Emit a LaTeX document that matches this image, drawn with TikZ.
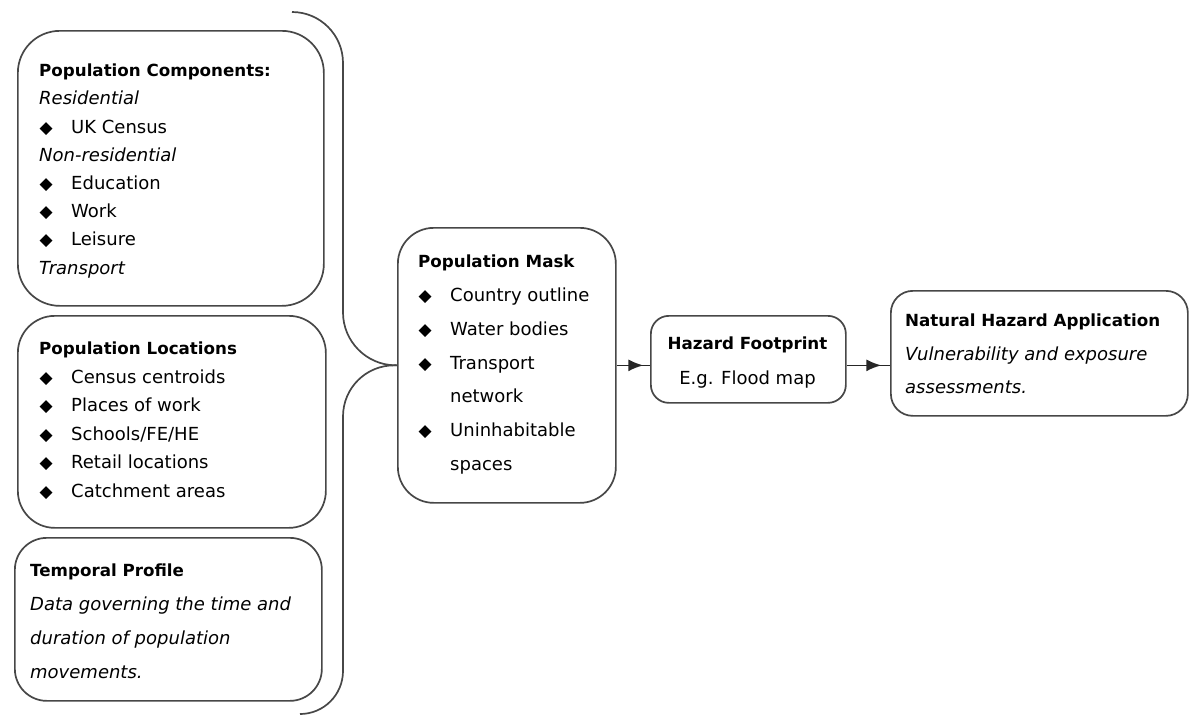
\documentclass[tikz,border=0pt]{standalone}
\usepackage{fontspec}
\setmainfont{DejaVu Sans}
\usetikzlibrary{arrows.meta,decorations.markings}

\newcommand{\dia}{\makebox[32pt][l]{\hspace{0.5pt}\fontsize{17}{17}\selectfont ◆}}
\newcommand{\ttl}[1]{{\fontsize{16.7}{20}\selectfont\bfseries #1}}

\begin{document}
\begin{tikzpicture}[x=1pt,y=-1pt,
    box/.style={draw=black!72, line width=1.7pt, fill=white, anchor=north west, inner sep=0pt},
    txt/.style={anchor=north west, inner sep=0pt, align=left},
    line/.style={draw=black!72, line width=1.7pt},
    flow/.style={draw=black!85, line width=1.7pt, postaction={decorate},
      decoration={markings, mark=at position 0.8 with {\arrow{Latex[length=15pt,width=12pt]}}}}]
    \useasboundingbox (0,0) rectangle (1190,716);

    %%%%% boxes %%%%%
    \node[box, rounded corners=42pt, minimum width=306pt, minimum height=275pt] (comp) at (17,30) {};
    \node[box, rounded corners=37pt, minimum width=308pt, minimum height=212pt] (loc) at (17,315) {};
    \node[box, rounded corners=32pt, minimum width=307pt, minimum height=163pt] (temp) at (14,537) {};
    \node[box, rounded corners=36pt, minimum width=218pt, minimum height=275pt] (mask) at (397,227) {};
    \node[box, rounded corners=18pt, minimum width=195pt, minimum height=87pt] (hazard) at (650,315) {};
    \node[box, rounded corners=22pt, minimum width=297pt, minimum height=125pt] (app) at (890,290) {};

    %%%%% texts %%%%%
    \node[txt] (comp-t) at (39,56.8) {\fontsize{18}{28.2}\selectfont
      \begin{tabular}{@{}l@{}}
        \ttl{Population Components:}\\
        \textit{Residential}\\
        \dia UK Census\\
        \textit{Non-residential}\\
        \dia Education\\
        \dia Work\\
        \dia Leisure\\
        \textit{Transport}
      \end{tabular}};
    \node[txt] (loc-t) at (39,334.6) {\fontsize{18}{28.5}\selectfont
      \begin{tabular}{@{}l@{}}
        \ttl{Population Locations}\\
        \dia Census centroids\\
        \dia Places of work\\
        \dia Schools/FE/HE\\
        \dia Retail locations\\
        \dia Catchment areas
      \end{tabular}};
    \node[txt] (temp-t) at (30,552.7) {\fontsize{18}{34}\selectfont
      \begin{tabular}{@{}l@{}}
        \ttl{Temporal Profile}\\
        \textit{Data governing the time and}\\
        \textit{duration of population}\\
        \textit{movements.}
      \end{tabular}};
    \node[txt] (mask-t) at (418,243.8) {\fontsize{18}{33.8}\selectfont
      \begin{tabular}{@{}l@{}}
        \ttl{Population Mask}\\
        \dia Country outline\\
        \dia Water bodies\\
        \dia Transport\\
        \hspace*{32pt}network\\
        \dia Uninhabitable\\
        \hspace*{32pt}spaces
      \end{tabular}};
    \node[anchor=north, inner sep=0pt] (hazard-t) at (747.5,325) {\fontsize{18}{35}\selectfont
      \begin{tabular}{@{}c@{}}
        \ttl{Hazard Footprint}\\
        E.g. Flood map
      \end{tabular}};
    \node[txt] (app-t) at (905,303) {\fontsize{18}{33.5}\selectfont
      \begin{tabular}{@{}l@{}}
        \ttl{Natural Hazard Application}\\
        \textit{Vulnerability and exposure}\\
        \textit{assessments.}
      \end{tabular}};

    %%%%% brace %%%%%
    \draw[line, rounded corners=51pt] (292,12) -- (343,12) -- (343,200);
    \draw[line, rounded corners=52pt] (343,190) -- (343,364.5) -- (mask.west);
    \draw[line, rounded corners=52pt] (mask.west) -- (343,364.5) -- (343,540);
    \draw[line, rounded corners=43pt] (343,530) -- (343,714) -- (300,714);

    %%%%% arrows %%%%%
    \draw[flow] (mask.east) -- (mask.east -| hazard.west);
    \draw[flow] (mask.east -| hazard.east) -- (mask.east -| app.west);
\end{tikzpicture}
\end{document}
